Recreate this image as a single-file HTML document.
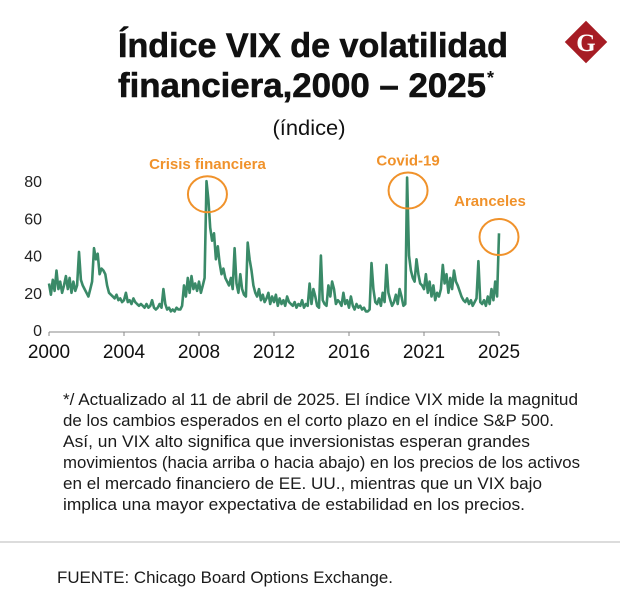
<!DOCTYPE html>
<html><head><meta charset="utf-8"><style>
html,body{margin:0;padding:0;background:#fff;}
svg{display:block;font-family:"Liberation Sans",sans-serif;}
</style></head><body>
<svg id="chart" width="620" height="615" viewBox="0 0 620 615">
<text x="118" y="57" font-size="34" font-weight="bold" fill="#111" stroke="#111" stroke-width="0.6" textLength="390" lengthAdjust="spacingAndGlyphs">Índice VIX de volatilidad</text>
<text x="118" y="97" font-size="34" font-weight="bold" fill="#111" stroke="#111" stroke-width="0.6" textLength="368" lengthAdjust="spacingAndGlyphs">financiera,2000 – 2025</text>
<text x="487" y="84" font-size="18" font-weight="bold" fill="#111">*</text>
<text x="309" y="135" font-size="21" fill="#111" text-anchor="middle" textLength="73" lengthAdjust="spacingAndGlyphs">(índice)</text>
<g>
<rect x="571" y="27" width="30" height="30" fill="#a61c24" transform="rotate(45 586 42)"/>
<text x="586" y="51" font-size="25" font-weight="bold" font-family="Liberation Serif,serif" fill="#fff" text-anchor="middle">G</text>
</g>
<g id="plot"></g>
<g font-size="17" fill="#1a1a1a">
<text x="63" y="405" textLength="515" lengthAdjust="spacingAndGlyphs">*/ Actualizado al 11 de abril de 2025. El índice VIX mide la magnitud</text>
<text x="63" y="426" textLength="491" lengthAdjust="spacingAndGlyphs">de los cambios esperados en el corto plazo en el índice S&amp;P 500.</text>
<text x="63" y="447" textLength="467" lengthAdjust="spacingAndGlyphs">Así, un VIX alto significa que inversionistas esperan grandes</text>
<text x="63" y="468" textLength="517" lengthAdjust="spacingAndGlyphs">movimientos (hacia arriba o hacia abajo) en los precios de los activos</text>
<text x="63" y="489" textLength="479" lengthAdjust="spacingAndGlyphs">en el mercado financiero de EE. UU., mientras que un VIX bajo</text>
<text x="63" y="510" textLength="462" lengthAdjust="spacingAndGlyphs">implica una mayor expectativa de estabilidad en los precios.</text>
</g>
<line x1="0" y1="542" x2="620" y2="542" stroke="#d0d0d0" stroke-width="1.5"/>
<text x="57" y="583" font-size="17" fill="#1a1a1a" textLength="336" lengthAdjust="spacingAndGlyphs">FUENTE: Chicago Board Options Exchange.</text>
</svg>
<script>
const yearStart = 2000;
const stepYears = 0.1;
const vixValues = [
25,19,27,21,32,22,26,20,24,29,
22,28,20,26,21,24,42,27,24,22,
20,18,22,26,44,38,41,30,33,32,
30,24,20,19,18,17,19,16,17,15,
16,20,15,16,14,17,15,14,13,14,
13,12,14,12,13,16,12,11,12,14,
12,22,14,11,12,10,11,10,12,11,
11,13,24,18,28,20,29,22,25,21,
26,20,24,28,80,70,55,48,52,38,
45,36,30,33,28,26,24,28,22,44,
25,20,30,22,19,18,47,38,32,24,
20,18,22,16,19,15,17,20,14,18,
15,19,13,17,14,16,13,18,15,14,
13,15,12,14,13,16,12,14,13,25,
14,22,18,13,12,40,16,14,13,24,
18,26,22,14,16,15,13,20,14,16,
12,18,13,11,14,12,13,11,12,10,
10,11,36,22,15,14,17,13,20,15,
35,20,16,13,15,19,14,22,18,13,
14,82,40,32,28,26,38,30,25,24,
22,30,20,26,18,24,16,20,18,22,
35,25,30,20,28,22,32,26,24,21,
18,16,15,17,14,16,13,15,17,37,
15,14,16,13,18,14,22,16,26,18,
52];
const yTicks = [0,20,40,60,80];
const xTickYears = [2000,2004,2008,2012,2016,2020,2024];
const xTickLabels = ["2000","2004","2008","2012","2016","2021","2025"];
const annotationLabels = ["Crisis financiera","Covid-19","Aranceles"];
const annotationYears = [2008.45,2019.15,2024.0];
const annotationValues = [73,75,50];

const NS = "http://www.w3.org/2000/svg";
const plot = document.getElementById("plot");
const xScale = y => 49 + (y - 2000) * 18.75;
const yScale = v => 330 - v * 1.86;
function mk(tag, attrs){const e=document.createElementNS(NS,tag);for(const k in attrs)e.setAttribute(k,attrs[k]);plot.appendChild(e);return e;}

yTicks.forEach(t=>{
  const e = mk("text",{x:42,y:yScale(t)+6,"font-size":16,fill:"#222","text-anchor":"end"});
  e.textContent = t;
  
  
});
const ax = mk("line",{x1:xScale(2000),y1:332,x2:xScale(2024),y2:332,stroke:"#888","stroke-width":1});


xTickYears.forEach((yr,i)=>{
  const tk = mk("line",{x1:xScale(yr),y1:332,x2:xScale(yr),y2:336,stroke:"#888","stroke-width":1});
  
  
  const e = mk("text",{x:xScale(yr),y:358,"font-size":19,fill:"#111","text-anchor":"middle"});
  e.textContent = xTickLabels[i];
  
  
});
const pts = vixValues.map((v,i)=>xScale(yearStart+i*stepYears).toFixed(1)+","+yScale(v).toFixed(1)).join(" ");
const line = mk("polyline",{points:pts,fill:"none",stroke:"#3a8a68","stroke-width":2.6,"stroke-linejoin":"round"});


annotationLabels.forEach((lab,i)=>{
  const cx = xScale(annotationYears[i]), cy = yScale(annotationValues[i]);
  const c = mk("ellipse",{cx:cx,cy:cy,rx:19.5,ry:18,fill:"none",stroke:"#f0922b","stroke-width":2});
  
  
  const ty = i===2 ? cy-31 : cy-25;
  const tx = i===2 ? cx-9 : cx;
  const t = mk("text",{x:tx,y:ty,"font-size":15,"font-weight":"bold",fill:"#f0922b","text-anchor":"middle"});
  t.textContent = lab;
  
  
});
</script>
</body></html>
